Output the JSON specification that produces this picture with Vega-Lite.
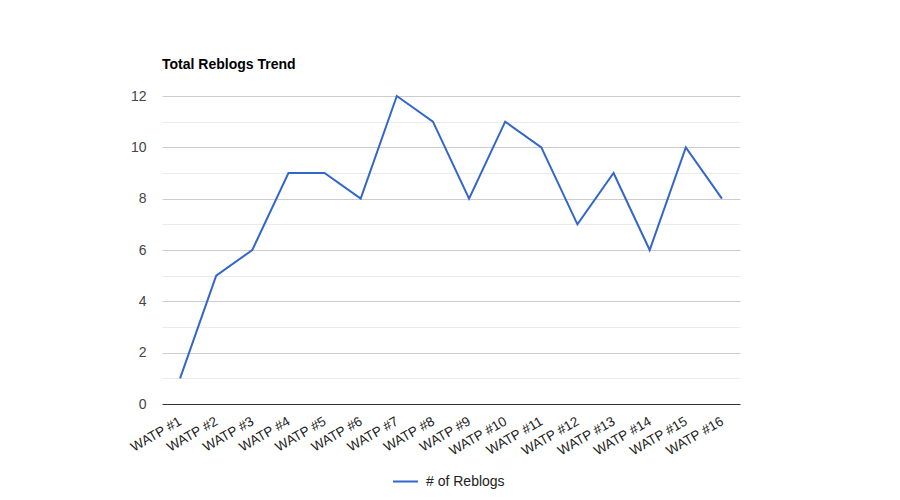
{
  "$schema": "https://vega.github.io/schema/vega-lite/v6.json",
  "autosize": {"type": "none"},
  "padding": {"left": 162, "top": 96, "right": 160, "bottom": 96},
  "width": 578,
  "height": 308,
  "background": "#ffffff",
  "title": {
    "text": "Total Reblogs Trend",
    "anchor": "start",
    "frame": "group",
    "baseline": "alphabetic",
    "offset": 6,
    "font": "Liberation Sans",
    "fontSize": 14,
    "fontWeight": "bold",
    "color": "#000000"
  },
  "data": {
    "values": [
      {"episode": "WATP #1", "reblogs": 1},
      {"episode": "WATP #2", "reblogs": 5},
      {"episode": "WATP #3", "reblogs": 6},
      {"episode": "WATP #4", "reblogs": 9},
      {"episode": "WATP #5", "reblogs": 9},
      {"episode": "WATP #6", "reblogs": 8},
      {"episode": "WATP #7", "reblogs": 12},
      {"episode": "WATP #8", "reblogs": 11},
      {"episode": "WATP #9", "reblogs": 8},
      {"episode": "WATP #10", "reblogs": 11},
      {"episode": "WATP #11", "reblogs": 10},
      {"episode": "WATP #12", "reblogs": 7},
      {"episode": "WATP #13", "reblogs": 9},
      {"episode": "WATP #14", "reblogs": 6},
      {"episode": "WATP #15", "reblogs": 10},
      {"episode": "WATP #16", "reblogs": 8}
    ]
  },
  "mark": {"type": "line", "strokeWidth": 2},
  "encoding": {
    "x": {
      "field": "episode",
      "type": "ordinal",
      "sort": null,
      "title": null,
      "scale": {"type": "point", "padding": 0.5},
      "axis": {
        "labelAngle": -30,
        "labelAlign": "right",
        "labelBaseline": "middle",
        "labelPadding": 16,
        "labelFont": "Liberation Sans",
        "labelFontSize": 13.5,
        "labelColor": "#222222",
        "labelOverlap": false,
        "ticks": false,
        "domain": false,
        "grid": false
      }
    },
    "y": {
      "field": "reblogs",
      "type": "quantitative",
      "title": null,
      "scale": {"domain": [0, 12], "nice": false},
      "axis": {
        "values": [0, 1, 2, 3, 4, 5, 6, 7, 8, 9, 10, 11, 12],
        "labelExpr": "datum.value % 2 == 0 ? datum.label : ''",
        "labelPadding": 16,
        "labelFont": "Liberation Sans",
        "labelFontSize": 14,
        "labelColor": "#444444",
        "ticks": false,
        "domain": false,
        "grid": true,
        "gridColor": {
          "condition": [
            {"test": "datum.value == 0", "value": "#333333"},
            {"test": "datum.value % 2 == 1", "value": "#ebebeb"}
          ],
          "value": "#cccccc"
        }
      }
    },
    "color": {
      "datum": "# of Reblogs",
      "type": "nominal",
      "scale": {"range": ["#3366cc"]},
      "legend": {
        "title": null,
        "orient": "none",
        "legendX": 230,
        "legendY": 372,
        "symbolType": "stroke",
        "symbolSize": 625,
        "symbolStrokeWidth": 2,
        "labelOffset": 7,
        "labelFont": "Liberation Sans",
        "labelFontSize": 14,
        "labelColor": "#222222"
      }
    }
  },
  "config": {"view": {"stroke": null}}
}
